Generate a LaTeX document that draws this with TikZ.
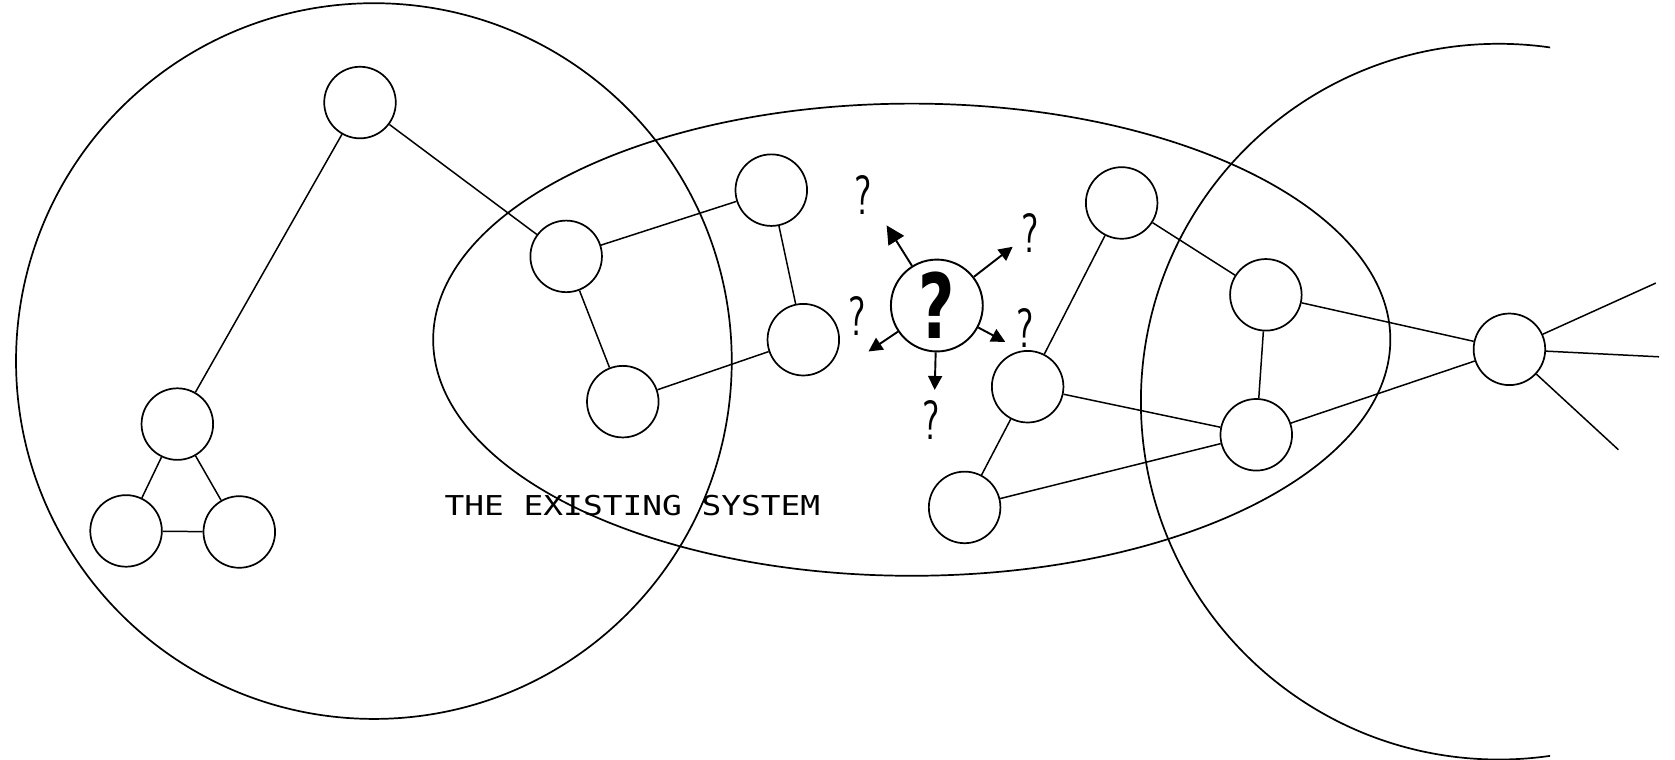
\documentclass[tikz,border=0pt]{standalone}
\usepackage{graphicx}
\usepackage{fontspec}
\newfontfamily\monofont{DejaVu Sans Mono}
\newfontfamily\qfont{DejaVu Sans}
\usetikzlibrary{arrows.meta}
\begin{document}
\begin{tikzpicture}[x=0.5pt,y=-0.5pt,
  nd/.style={circle,draw,line width=0.8pt,minimum size=33.5pt,inner sep=0pt},
  qnd/.style={circle,draw,line width=0.9pt,minimum size=43pt,inner sep=0pt},
  big/.style={line width=0.8pt},
  edge/.style={line width=0.7pt},
  arr/.style={line width=0.9pt,-{Triangle[length=6.5pt,width=6.5pt]}},
  smallq/.style={inner sep=0pt,font=\sffamily\fontsize{26}{26}\selectfont}
]
\useasboundingbox (0,0) rectangle (1568,711);
% large outlines
\draw[big] (350,338) circle [radius=335];
\draw[big] (853.5,318) ellipse [x radius=448, y radius=221];
\begin{scope}
  \clip (1000,0) rectangle (1451,711);
  \draw[big] (1403,376) circle [radius=335];
\end{scope}
% small nodes
\node[nd] (n1) at (337,96) {};
\node[nd] (n2) at (530,240) {};
\node[nd] (n3) at (722,178) {};
\node[nd] (n4) at (752,318) {};
\node[nd] (n5) at (583,376) {};
\node[nd] (n6) at (166,397) {};
\node[nd] (n7) at (118,497) {};
\node[nd] (n8) at (224,498) {};
\node[nd] (n10) at (1050,190) {};
\node[nd] (n11) at (1185,276) {};
\node[nd] (n12) at (962,362) {};
\node[nd] (n13) at (1176,407) {};
\node[nd] (n14) at (903,475) {};
\node[nd] (n15) at (1413,327) {};
\node[qnd] (q) at (877,286) {\scalebox{0.7}[1]{\qfont\bfseries\fontsize{42}{42}\selectfont ?}};
% edges
\draw[edge] (n1) -- (n2);
\draw[edge] (n1) -- (n6);
\draw[edge] (n6) -- (n7);
\draw[edge] (n6) -- (n8);
\draw[edge] (n7) -- (n8);
\draw[edge] (n2) -- (n3);
\draw[edge] (n2) -- (n5);
\draw[edge] (n3) -- (n4);
\draw[edge] (n5) -- (n4);
\draw[edge] (n10) -- (n12);
\draw[edge] (n12) -- (n14);
\draw[edge] (n10) -- (n11);
\draw[edge] (n11) -- (n13);
\draw[edge] (n12) -- (n13);
\draw[edge] (n14) -- (n13);
\draw[edge] (n11) -- (n15);
\draw[edge] (n13) -- (n15);
\coordinate (o1) at (1550,265);
\coordinate (o2) at (1553,334);
\coordinate (o3) at (1515,421);
\draw[edge] (n15) -- (o1);
\draw[edge] (n15) -- (o2);
\draw[edge] (n15) -- (o3);
% arrows from question node
\coordinate (t1) at (830,211);
\coordinate (t2) at (948,231);
\coordinate (t3) at (941,320);
\coordinate (t4) at (875,365);
\coordinate (t5) at (813,329);
\draw[arr,-{Triangle[length=8.5pt,width=8.5pt]}] (q) -- (t1);
\draw[arr] (q) -- (t2);
\draw[arr] (q) -- (t3);
\draw[arr] (q) -- (t4);
\draw[arr] (q) -- (t5);
% small question marks
\node[smallq] (s1) at (808,183) {\scalebox{0.7}[1]{?}};
\node[smallq] (s2) at (964,218) {\scalebox{0.7}[1]{?}};
\node[smallq] (s3) at (802,296) {\scalebox{0.7}[1]{?}};
\node[smallq] (s4) at (960,307) {\scalebox{0.7}[1]{?}};
\node[smallq] (s5) at (872,393) {\scalebox{0.7}[1]{?}};
% label
\node[inner sep=0pt] (label) at (592,473) {\scalebox{1.2}[1]{\monofont\fontsize{12.8}{14}\selectfont THE EXISTING SYSTEM}};
\end{tikzpicture}
\end{document}
